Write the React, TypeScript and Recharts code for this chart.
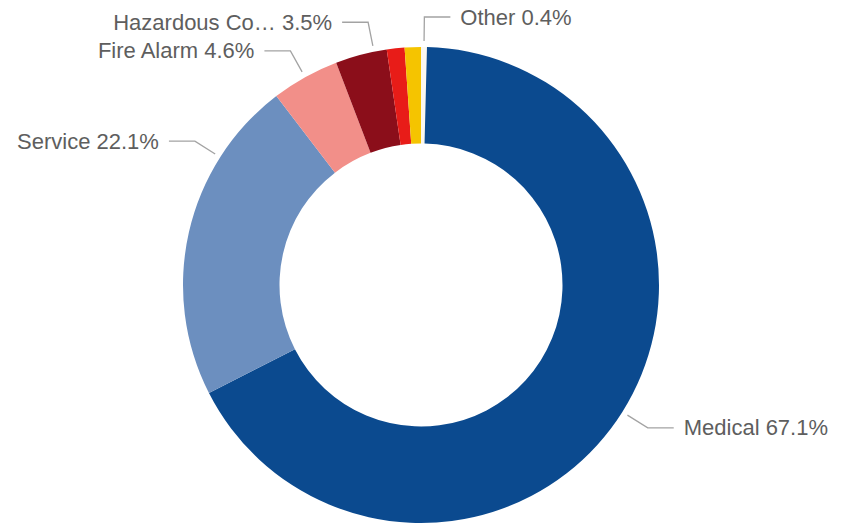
import React from "react";
import { PieChart, Pie, Cell } from "recharts";

// Categories in drawing order (clockwise from 12 o'clock)
const categories = ["Other", "Medical", "Service", "Fire Alarm", "Hazardous Condition", "Fire", "Rescue"];
// Share of incidents (%)
const shares = [0.4, 67.1, 22.1, 4.6, 3.5, 1.2, 1.1];
const colors = ["#fbf8f0", "#0b4a8f", "#6c8fbf", "#f28f89", "#8b0e1a", "#e81c18", "#f5c400"];
// Labels Power BI did not draw (too small to fit)
const hiddenLabels = ["Fire", "Rescue"];

const data = categories.map((name, i) => ({ name, value: shares[i] }));

const RAD = Math.PI / 180;
// small layout nudges for label anchors (degrees), mimicking the overlap-avoidance
const labelAngleShift: Record<string, number> = {
  Service: -19.7,
  "Hazardous Condition": -3.2,
};

const truncate = (s: string) => (s.length > 14 ? s.slice(0, 12) + "\u2026" : s);

const renderLabel = (props: any) => {
  const name: string = props.name ?? props.payload?.name;
  const value: number = props.value ?? props.payload?.value;
  if (hiddenLabels.includes(name)) return null;
  const { cx, cy, outerRadius } = props;
  const angle = props.midAngle + (labelAngleShift[name] ?? 0);
  const cos = Math.cos(angle * RAD);
  const sin = Math.sin(angle * RAD);
  const ax = cx + (outerRadius + 6) * cos;
  const ay = cy - (outerRadius + 6) * sin;
  const ex = cx + (outerRadius + 30) * cos;
  const ey = cy - (outerRadius + 30) * sin;
  const right = cos >= 0;
  const hx = ex + (right ? 26 : -26);
  const tx = hx + (right ? 10 : -10);
  return (
    <g>
      <polyline
        points={`${ax},${ay} ${ex},${ey} ${hx},${ey}`}
        fill="none"
        stroke="#a3a3a3"
        strokeWidth={1.3}
      />
      <text
        x={tx}
        y={ey}
        textAnchor={right ? "start" : "end"}
        dominantBaseline="central"
        fill="#5e5e5e"
        fontSize={22}
        fontFamily="'Liberation Sans', Arial, sans-serif"
      >
        {`${truncate(name)} ${value.toFixed(1)}%`}
      </text>
    </g>
  );
};

export default function App() {
  return (
    <div style={{ position: "absolute", left: 0, top: 0, width: 849, height: 527, background: "#ffffff" }}>
      <PieChart width={849} height={527} margin={{ top: 0, right: 0, bottom: 0, left: 0 }}>
        <Pie
          data={data}
          dataKey="value"
          nameKey="name"
          cx={421}
          cy={285}
          innerRadius={141.5}
          outerRadius={238}
          startAngle={90}
          endAngle={-270}
          stroke="none"
          label={renderLabel}
          labelLine={false}
          isAnimationActive={false}
        >
          {data.map((d, i) => (
            <Cell key={d.name} fill={colors[i]} />
          ))}
        </Pie>
      </PieChart>
    </div>
  );
}
